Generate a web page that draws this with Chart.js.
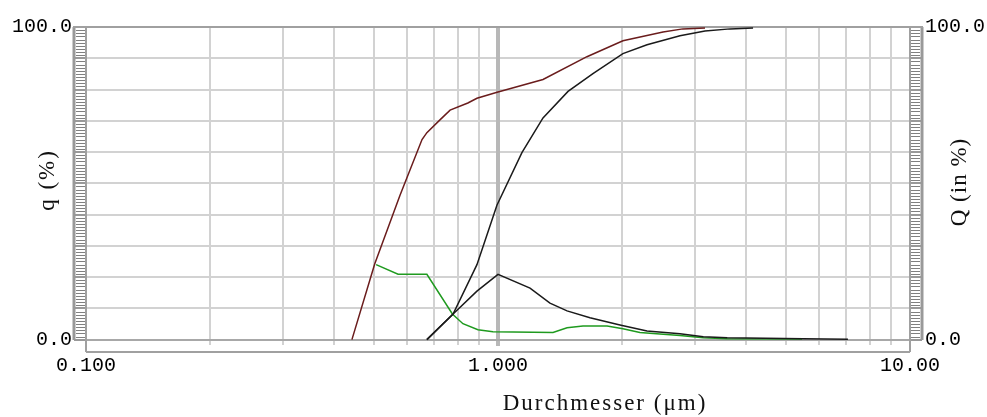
<!DOCTYPE html>
<html>
<head>
<meta charset="utf-8">
<script src="https://cdn.jsdelivr.net/npm/chart.js@4/dist/chart.umd.min.js"></script>
<style>
  html, body { margin: 0; padding: 0; background: #fff; }
  canvas { display: block; }
</style>
</head>
<body>
<canvas id="myChart" width="987" height="417"></canvas>
<script>
// Sample A (maroon cumulative, green density)
const sizeCumA = [0.442, 0.502, 0.578, 0.654, 0.672, 0.723, 0.765, 0.845, 0.889, 0.995, 1.286, 1.644, 2.01, 2.515, 2.81, 3.18];
const cumA = [0, 24.2, 46.1, 64.0, 66.2, 70.3, 73.4, 75.7, 77.2, 79.1, 83.2, 90.5, 95.6, 98.4, 99.4, 99.7];
const sizeDensA = [0.506, 0.572, 0.672, 0.775, 0.822, 0.894, 0.972, 1.36, 1.471, 1.608, 1.84, 2.01, 2.21, 2.765, 3.15, 3.60, 5.47];
const densA = [24.0, 20.9, 20.9, 8.2, 5.1, 3.2, 2.5, 2.3, 3.8, 4.4, 4.4, 3.5, 2.3, 1.3, 0.6, 0.3, 0.2];

// Sample B (black cumulative, black density)
const sizeCumB = [0.672, 0.778, 0.889, 0.994, 1.143, 1.286, 1.479, 1.70, 2.01, 2.30, 2.765, 3.18, 3.66, 4.16];
const cumB = [0, 8.2, 24.0, 43.0, 59.8, 70.9, 79.4, 85.1, 91.5, 94.3, 97.2, 98.7, 99.4, 99.7];
const sizeDensB = [0.672, 0.778, 0.889, 1.0, 1.196, 1.337, 1.471, 1.672, 1.977, 2.30, 2.765, 3.15, 3.60, 5.50, 7.07];
const densB = [0, 8.2, 15.5, 20.9, 16.5, 11.7, 9.2, 7.0, 4.7, 2.8, 1.9, 0.9, 0.6, 0.3, 0.15];

// Axis ticks
const xTickValues = [0.1, 1, 10];
const xTickLabels = ['0.100', '1.000', '10.00'];
const xGridValues = [0.2, 0.3, 0.4, 0.5, 0.6, 0.7, 0.8, 0.9, 2, 3, 4, 5, 6, 7, 8, 9];
const yTickValues = [0, 100];
const yTickLabels = ['0.0', '100.0'];

const toPoints = (xs, ys) => xs.map((v, i) => ({ x: v, y: ys[i] }));

function seg(ctx, x1, y1, x2, y2) {
    ctx.beginPath();
    ctx.moveTo(x1, y1);
    ctx.lineTo(x2, y2);
    ctx.stroke();
}

// grid, rulers and frame, drawn below the curves
const framePlugin = {
    id: 'frame',
    beforeDatasetsDraw(chart) {
        const { ctx, chartArea: a, scales } = chart;
        const x = scales.x, y = scales.y;
        const y0 = Math.round(y.getPixelForValue(0));
        const top = Math.round(a.top);
        const left = Math.round(a.left), right = Math.round(a.right), bottom = Math.round(a.bottom);
        ctx.save();

        // horizontal grid
        ctx.strokeStyle = '#d2d2d2';
        ctx.lineWidth = 2;
        for (let v = 10; v < 100; v += 10) {
            const py = Math.round(y.getPixelForValue(v));
            seg(ctx, left, py, right, py);
        }
        // vertical grid with small ticks below the baseline
        xGridValues.forEach(v => {
            const px = Math.round(x.getPixelForValue(v));
            seg(ctx, px, top, px, y0 + 5);
        });
        ctx.strokeStyle = '#b8b8b8';
        ctx.lineWidth = 4;
        const p1 = Math.round(x.getPixelForValue(1));
        seg(ctx, p1, top, p1, y0 + 6);

        // baseline
        ctx.strokeStyle = '#a8a8a8';
        ctx.lineWidth = 2;
        seg(ctx, left, y0, right, y0);

        // rulers
        const rulers = [[left - 12, left - 10, left], [right + 12, right + 10, right]];
        rulers.forEach(([outer, tickFrom, tickTo]) => {
            ctx.strokeStyle = '#808080';
            ctx.lineWidth = 1;
            for (let v = 0; v <= 100; v++) {
                const py = Math.round(y.getPixelForValue(v)) + 0.5;
                if (v % 10 === 0) continue;
                seg(ctx, tickFrom, py, tickTo, py);
            }
            ctx.strokeStyle = '#999';
            ctx.lineWidth = 2;
            for (let v = 0; v <= 100; v += 10) {
                const py = Math.round(y.getPixelForValue(v));
                seg(ctx, outer, py, tickTo, py);
            }
            ctx.lineWidth = 3;
            seg(ctx, outer, top, outer, y0);
        });

        // frame
        ctx.strokeStyle = '#a0a0a0';
        ctx.lineWidth = 2;
        seg(ctx, left - 13, top, right + 13, top);
        seg(ctx, left, top, left, bottom);
        seg(ctx, right, top, right, bottom);
        seg(ctx, left, bottom, right, bottom);
        ctx.restore();
    }
};

// axis titles
const titlePlugin = {
    id: 'titles',
    afterDraw(chart) {
        const ctx = chart.ctx;
        const put = (text, px, py, rot, spacing) => {
            ctx.save();
            ctx.fillStyle = '#111';
            ctx.font = '23px "Liberation Serif", serif';
            ctx.letterSpacing = spacing;
            ctx.textAlign = 'center';
            ctx.textBaseline = 'middle';
            ctx.translate(px, py);
            ctx.rotate(rot);
            ctx.fillText(text, 0, 0);
            ctx.restore();
        };
        put('Durchmesser (\u03bcm)', 605, 404, 0, '2px');
        put('q (%)', 48, 180, -Math.PI / 2, '2px');
        put('Q (in %)', 960, 182, -Math.PI / 2, '1px');
    }
};

const tickFont = { family: '"Liberation Mono", monospace', size: 20 };

const yAxis = (position, width) => ({
    type: 'linear',
    position: position,
    min: -3.95,
    max: 100,
    afterFit: s => { s.width = width; },
    afterBuildTicks: s => { s.ticks = yTickValues.map(v => ({ value: v })); },
    grid: { display: false, drawTicks: false },
    border: { display: false },
    ticks: {
        font: tickFont,
        color: '#000',
        padding: position === 'left' ? 14 : 15,
        callback: v => yTickLabels[yTickValues.indexOf(v)]
    }
});

const myChart = new Chart(document.getElementById('myChart'), {
    type: 'line',
    data: {
        datasets: [
            { data: toPoints(sizeDensB, densB), borderColor: '#1a1a1a', yAxisID: 'y' },
            { data: toPoints(sizeCumB, cumB), borderColor: '#1a1a1a', yAxisID: 'y2' },
            { data: toPoints(sizeDensA, densA), borderColor: '#1f9a1f', yAxisID: 'y' },
            { data: toPoints(sizeCumA, cumA), borderColor: '#6a1c1c', yAxisID: 'y2' }
        ]
    },
    options: {
        responsive: false,
        animation: false,
        events: [],
        layout: { padding: { top: 23, left: 0, right: 0, bottom: 0 } },
        elements: {
            point: { radius: 0 },
            line: { borderWidth: 1.5, tension: 0, fill: false }
        },
        plugins: {
            legend: { display: false },
            tooltip: { enabled: false }
        },
        scales: {
            x: {
                type: 'logarithmic',
                min: 0.1,
                max: 10,
                afterFit: s => { s.height = 65; },
                afterBuildTicks: s => { s.ticks = xTickValues.map(v => ({ value: v })); },
                grid: { display: false, drawTicks: false },
                border: { display: false },
                ticks: {
                    font: tickFont,
                    color: '#000',
                    padding: 2,
                    maxRotation: 0,
                    autoSkip: false,
                    callback: v => xTickLabels[xTickValues.indexOf(v)]
                }
            },
            y: yAxis('left', 86),
            y2: yAxis('right', 77)
        }
    },
    plugins: [framePlugin, titlePlugin]
});
</script>
</body>
</html>
